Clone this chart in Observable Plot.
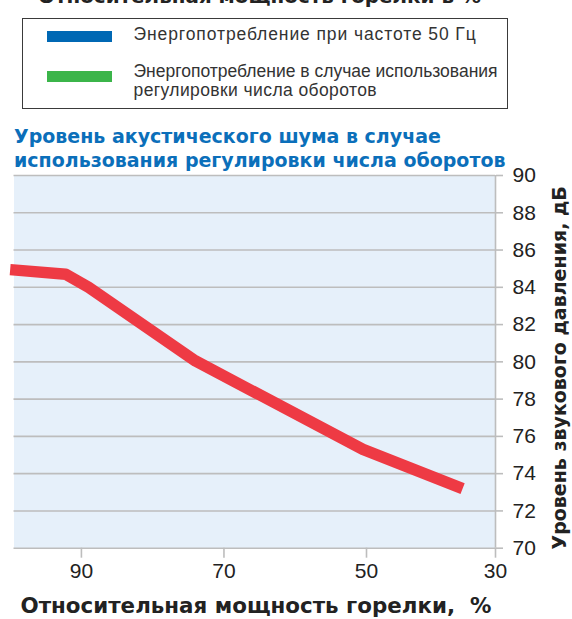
<!DOCTYPE html>
<html>
<head>
<meta charset="utf-8">
<script src="https://cdn.jsdelivr.net/npm/d3@7"></script>
<script src="https://cdn.jsdelivr.net/npm/@observablehq/plot@0.6"></script>
<style>
  html, body { margin: 0; padding: 0; background: #fff; }
  body { font-family: "DejaVu Sans", "Liberation Sans", Arial, sans-serif; }
  #wrap { position: relative; width: 572px; height: 619px; overflow: hidden; }
  #chart { position: absolute; left: 0; top: 0; }
  .toptitle { position: absolute; left: 38px; top: -13.5px; font-size: 19.9px; line-height: 20px; font-weight: bold; color: #222; white-space: nowrap; }
  .legend { position: absolute; left: 21.5px; top: 18px; width: 486px; height: 91px; border: 1px solid #3a3a3a; box-sizing: border-box; }
  .sw { position: absolute; left: 24px; width: 65px; height: 11px; }
  .lt { position: absolute; left: 111px; font-family: "Liberation Sans", Arial, sans-serif; font-size: 17.5px; line-height: 19.5px; color: #333; white-space: pre; }
  .title { position: absolute; left: 14px; top: 123.9px; font-size: 19px; line-height: 24px; font-weight: bold; color: #0b6fba; white-space: nowrap; }
  .xlabel { position: absolute; left: 20.5px; top: 595.3px; font-size: 21.4px; line-height: 21px; font-weight: bold; color: #222; white-space: pre; }
</style>
</head>
<body>
<div id="wrap">
  <div id="chart"></div>
</div>
<script>
// ---- data ----
const loadPct = [100, 92.2, 89, 74, 50.5, 35.1];          // relative burner power, %
const noiseDb = [84.95, 84.7, 84.0, 80.05, 75.3, 73.2];    // sound pressure level, dB
const xTicks = [90, 70, 50, 30];
const yTicks = [70, 72, 74, 76, 78, 80, 82, 84, 86, 88, 90];
const legendLabels = [
  "Энергопотребление при частоте 50 Гц",
  "Энергопотребление в случае использования\nрегулировки числа оборотов"
];
const legendColors = ["#0068b4", "#3bb54a"];
const topTitle = "Относительная мощность горелки в %";
const chartTitle = ["Уровень акустического шума в случае", "использования регулировки числа оборотов"];
const xLabel = "Относительная мощность горелки,  %";
const yLabel = "Уровень звукового давления, дБ";

// styling only
const legendTracking = [[0.9], [0, 0.4]];

const data = loadPct.map((x, i) => ({x, y: noiseDb[i]}));
const gridColor = "#bdbdbd";

const chart = Plot.plot({
  width: 572,
  height: 619,
  marginLeft: 13.5,
  marginRight: 77,
  marginTop: 175,
  marginBottom: 71.3,
  style: {fontFamily: "'Liberation Sans', Arial, sans-serif", fontSize: "21px", background: "transparent", overflow: "visible", color: "#222"},
  x: {type: "linear", domain: [100, 50, 30], range: [9.65, 366, 495]},
  y: {domain: [70, 90]},
  marks: [
    Plot.frame({fill: "#e6f0fa", stroke: null}),
    Plot.gridY(yTicks, {stroke: gridColor, strokeWidth: 1.6, strokeOpacity: 1}),
    Plot.ruleX(xTicks.slice(-1), {stroke: gridColor, strokeWidth: 1.6}),
    Plot.line(data, {x: "x", y: "y", stroke: "#ee3a44", strokeWidth: 11.5, strokeLinecap: "butt", strokeLinejoin: "round"}),
    Plot.axisX({ticks: xTicks, tickSize: 10, tickPadding: 5, stroke: gridColor, strokeWidth: 1.6, color: "#222", label: null, fontSize: 21}),
    Plot.axisY({anchor: "right", ticks: yTicks, tickSize: 7, tickPadding: 10, stroke: gridColor, strokeWidth: 1.6, color: "#222", label: null, fontSize: 21}),
    Plot.text([yLabel], {frameAnchor: "right", textAnchor: "middle", lineAnchor: "middle", rotate: -90, dx: 64, dy: 6, fontWeight: "bold", fontSize: 19, fontFamily: "'DejaVu Sans', sans-serif", fill: "#222"})
  ]
});
document.getElementById("chart").appendChild(chart);

const wrap = document.getElementById("wrap");
const tt = document.createElement("div");
tt.className = "toptitle"; tt.textContent = topTitle; wrap.appendChild(tt);

const lg = document.createElement("div");
lg.className = "legend";
const swTops = [12, 52], txtTops = [5.8, 42.8];
legendLabels.forEach((lab, i) => {
  const s = document.createElement("div");
  s.className = "sw"; s.style.top = swTops[i] + "px"; s.style.background = legendColors[i];
  lg.appendChild(s);
  const t = document.createElement("div");
  t.className = "lt"; t.style.top = txtTops[i] + "px";
  lab.split("\n").forEach((line, j) => {
    const d = document.createElement("div");
    d.style.letterSpacing = legendTracking[i][j] + "px";
    d.textContent = line;
    t.appendChild(d);
  });
  lg.appendChild(t);
});
wrap.appendChild(lg);

const ti = document.createElement("div");
ti.className = "title"; ti.innerHTML = chartTitle.join("<br>"); wrap.appendChild(ti);

const xl = document.createElement("div");
xl.className = "xlabel"; xl.textContent = xLabel; wrap.appendChild(xl);
</script>
</body>
</html>
